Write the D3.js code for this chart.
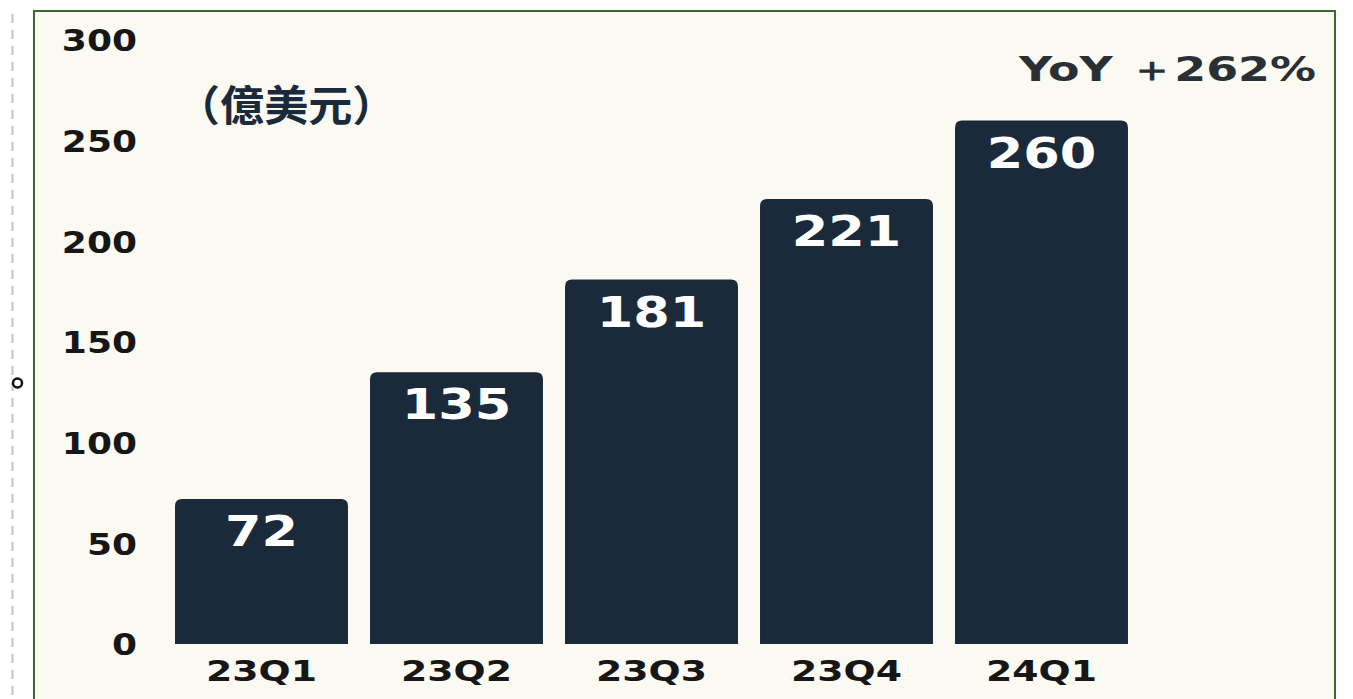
<!DOCTYPE html>
<html>
<head>
<meta charset="utf-8">
<script src="https://cdn.jsdelivr.net/npm/d3@7"></script>
<style>
  body { margin: 0; background: #ffffff; }
  svg { display: block; }
</style>
</head>
<body>
<script>
// data
var quarters = ['23Q1', '23Q2', '23Q3', '23Q4', '24Q1'];
var revenue = [72, 135, 181, 221, 260];
var yTicks = [0, 50, 100, 150, 200, 250, 300];
var unitLabel = '（億美元）';
var yoyLabel = 'YoY ＋262%';

var width = 1353, height = 699;
var svg = d3.select('body').append('svg')
  .attr('width', width)
  .attr('height', height);

// dashed guide on the far left
svg.append('line')
  .attr('x1', 12.5).attr('y1', 14)
  .attr('x2', 12.5).attr('y2', height)
  .attr('stroke', '#c4c4c4')
  .attr('stroke-width', 2)
  .attr('stroke-dasharray', '9,7');
svg.append('circle')
  .attr('cx', 17.5).attr('cy', 383).attr('r', 4.5)
  .attr('fill', '#ffffff')
  .attr('stroke', '#111')
  .attr('stroke-width', 2.5);

// framed panel
svg.append('rect')
  .attr('x', 34).attr('y', 11)
  .attr('width', 1301).attr('height', 700)
  .attr('fill', '#fafaf3')
  .attr('stroke', '#3c6a2a')
  .attr('stroke-width', 2);

var x = d3.scaleBand()
  .domain(quarters)
  .range([164, 1139])
  .paddingInner(0.113)
  .paddingOuter(0.0565);

var y = d3.scaleLinear()
  .domain([0, 300])
  .range([644, 40]);

// y axis labels (no line)
var yAxis = d3.axisLeft(y).tickValues(yTicks).tickSize(0).tickPadding(0);
var gy = svg.append('g')
  .attr('transform', 'translate(137,0)')
  .call(yAxis);
gy.select('.domain').remove();
gy.selectAll('text')
  .attr('font-family', 'DejaVu Sans')
  .attr('font-weight', 'bold')
  .attr('font-size', 30)
  .attr('fill', '#161616')
  .attr('dy', '0.36em')
  .attr('transform', 'scale(1.2,1)');

// x axis labels
var xAxis = d3.axisBottom(x).tickSize(0).tickPadding(0);
var gx = svg.append('g')
  .attr('transform', 'translate(0,681)')
  .call(xAxis);
gx.select('.domain').remove();
gx.selectAll('text')
  .attr('font-family', 'DejaVu Sans')
  .attr('font-weight', 'bold')
  .attr('font-size', 28)
  .attr('fill', '#161616')
  .attr('y', 0)
  .attr('dy', 0)
  .attr('transform', 'scale(1.35,1)');

// bars with rounded tops
var r = 7;
function barPath(d, i) {
  var x0 = x(quarters[i]), x1 = x0 + x.bandwidth();
  var y0 = y(0), y1 = y(d);
  return 'M' + x0 + ',' + y0 +
    'V' + (y1 + r) +
    'Q' + x0 + ',' + y1 + ' ' + (x0 + r) + ',' + y1 +
    'H' + (x1 - r) +
    'Q' + x1 + ',' + y1 + ' ' + x1 + ',' + (y1 + r) +
    'V' + y0 + 'Z';
}
svg.append('g').selectAll('path')
  .data(revenue)
  .enter().append('path')
  .attr('d', barPath)
  .attr('fill', '#1b2a3a');

// value labels
svg.append('g').selectAll('text')
  .data(revenue)
  .enter().append('text')
  .attr('transform', function(d, i) {
    return 'translate(' + (x(quarters[i]) + x.bandwidth() / 2) + ',' + (y(d) + 47) + ') scale(1.25,1)';
  })
  .attr('text-anchor', 'middle')
  .attr('font-family', 'DejaVu Sans')
  .attr('font-weight', 'bold')
  .attr('font-size', 42)
  .attr('fill', '#ffffff')
  .text(function(d) { return d; });

// unit label
svg.append('text')
  .attr('transform', 'translate(176,121) scale(1.05,1)')
  .attr('font-family', 'Noto Sans CJK TC')
  .attr('font-weight', 'bold')
  .attr('font-size', 42)
  .attr('fill', '#1b2a3a')
  .text(unitLabel);

// YoY note
svg.append('text')
  .attr('transform', 'translate(1316,81) scale(1.35,1)')
  .attr('text-anchor', 'end')
  .attr('font-family', 'DejaVu Sans')
  .attr('font-weight', 'bold')
  .attr('font-size', 34)
  .attr('fill', '#2a2f35')
  .text(yoyLabel);
</script>
</body>
</html>
